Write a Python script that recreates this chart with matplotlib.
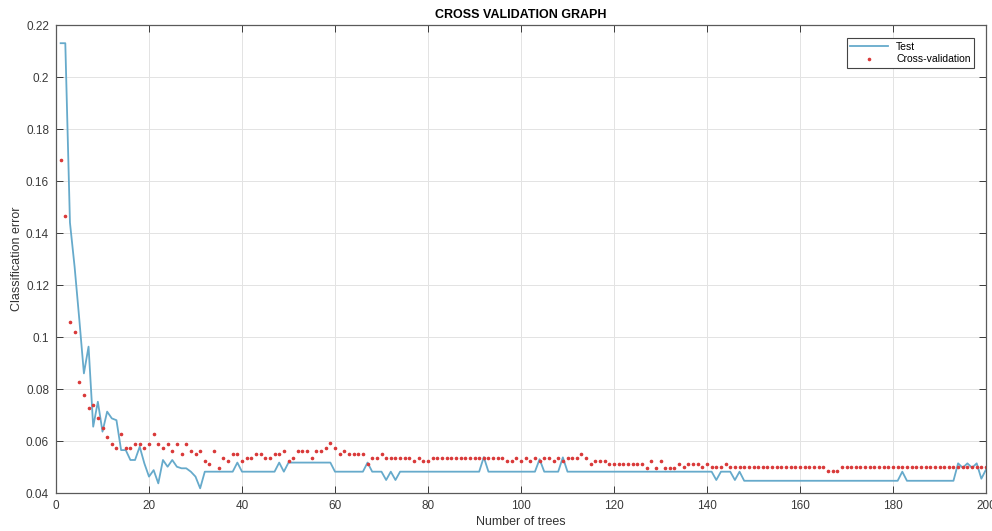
import numpy as np
import matplotlib
matplotlib.use("Agg")
import matplotlib.pyplot as plt
from matplotlib.ticker import FormatStrFormatter

plt.rcParams['font.family'] = ['Liberation Sans', 'DejaVu Sans']

# number of trees 1..200
trees = np.arange(1, 201)

# test classification error (blue line)
test_err = [
    0.213, 0.213, 0.144, 0.127, 0.107, 0.086, 0.0963, 0.0655, 0.0751, 0.0636,
    0.0713, 0.0687, 0.068, 0.0565, 0.0565, 0.0527, 0.0527, 0.0578, 0.0514, 0.0463,
    0.0488, 0.0437, 0.0527, 0.0501, 0.0527, 0.0501, 0.0495, 0.0495, 0.0482, 0.0463,
    0.0418, 0.0482, 0.0482, 0.0482, 0.0482, 0.0482, 0.0482, 0.0482, 0.0517, 0.0482,
    0.0482, 0.0482, 0.0482, 0.0482, 0.0482, 0.0482, 0.0482, 0.0517, 0.0482, 0.0517,
    0.0517, 0.0517, 0.0517, 0.0517, 0.0517, 0.0517, 0.0517, 0.0517, 0.0517, 0.0482,
    0.0482, 0.0482, 0.0482, 0.0482, 0.0482, 0.0482, 0.0517, 0.0482, 0.0482, 0.0482,
    0.045, 0.0482, 0.045, 0.0482, 0.0482, 0.0482, 0.0482, 0.0482, 0.0482, 0.0482,
    0.0482, 0.0482, 0.0482, 0.0482, 0.0482, 0.0482, 0.0482, 0.0482, 0.0482, 0.0482,
    0.0482, 0.0538, 0.0482, 0.0482, 0.0482, 0.0482, 0.0482, 0.0482, 0.0482, 0.0482,
    0.0482, 0.0482, 0.0482, 0.053, 0.0482, 0.0482, 0.0482, 0.0482, 0.0537, 0.0482,
    0.0482, 0.0482, 0.0482, 0.0482, 0.0482, 0.0482, 0.0482, 0.0482, 0.0482, 0.0482,
    0.0482, 0.0482, 0.0482, 0.0482, 0.0482, 0.0482, 0.0482, 0.0482, 0.0482, 0.0482,
    0.0482, 0.0482, 0.0482, 0.0482, 0.0482, 0.0482, 0.0482, 0.0482, 0.0482, 0.0482,
    0.0482, 0.045, 0.0482, 0.0482, 0.0482, 0.045, 0.0482, 0.0447, 0.0447, 0.0447,
    0.0447, 0.0447, 0.0447, 0.0447, 0.0447, 0.0447, 0.0447, 0.0447, 0.0447, 0.0447,
    0.0447, 0.0447, 0.0447, 0.0447, 0.0447, 0.0447, 0.0447, 0.0447, 0.0447, 0.0447,
    0.0447, 0.0447, 0.0447, 0.0447, 0.0447, 0.0447, 0.0447, 0.0447, 0.0447, 0.0447,
    0.0447, 0.0482, 0.0447, 0.0447, 0.0447, 0.0447, 0.0447, 0.0447, 0.0447, 0.0447,
    0.0447, 0.0447, 0.0447, 0.0514, 0.0497, 0.0514, 0.0497, 0.0514, 0.0455, 0.049,
]

# cross-validation error (red dots)
cv_err = [
    0.168, 0.1465, 0.1056, 0.1018, 0.0828, 0.0777, 0.0728, 0.074, 0.069, 0.065,
    0.0614, 0.0587, 0.0574, 0.0626, 0.0574, 0.0574, 0.0587, 0.0587, 0.0574, 0.0587,
    0.0626, 0.0587, 0.0574, 0.0587, 0.0562, 0.0587, 0.0549, 0.0587, 0.0562, 0.0549,
    0.0562, 0.0523, 0.051, 0.0562, 0.0497, 0.0536, 0.0523, 0.055, 0.055, 0.0523,
    0.0536, 0.0536, 0.055, 0.055, 0.0536, 0.0536, 0.055, 0.055, 0.0563, 0.0523,
    0.0536, 0.0563, 0.0563, 0.0563, 0.0536, 0.0563, 0.0563, 0.0574, 0.0591, 0.0574,
    0.055, 0.0563, 0.055, 0.055, 0.055, 0.055, 0.051, 0.0536, 0.0536, 0.055,
    0.0536, 0.0536, 0.0536, 0.0536, 0.0536, 0.0536, 0.0523, 0.0536, 0.0523, 0.0523,
    0.0536, 0.0536, 0.0536, 0.0536, 0.0536, 0.0536, 0.0536, 0.0536, 0.0536, 0.0536,
    0.0536, 0.0536, 0.0536, 0.0536, 0.0536, 0.0536, 0.0523, 0.0523, 0.0536, 0.0523,
    0.0536, 0.0523, 0.0536, 0.0523, 0.0536, 0.0536, 0.0523, 0.0536, 0.0523, 0.0536,
    0.0536, 0.0536, 0.055, 0.0536, 0.0512, 0.0523, 0.0523, 0.0523, 0.051, 0.051,
    0.051, 0.051, 0.051, 0.051, 0.051, 0.051, 0.0497, 0.0523, 0.0497, 0.0523,
    0.0497, 0.0497, 0.0497, 0.051, 0.0499, 0.051, 0.051, 0.051, 0.0499, 0.051,
    0.0499, 0.0499, 0.0499, 0.051, 0.0499, 0.0499, 0.0499, 0.0499, 0.0499, 0.0499,
    0.0499, 0.0499, 0.0499, 0.0499, 0.0499, 0.0499, 0.0499, 0.0499, 0.0499, 0.0499,
    0.0499, 0.0499, 0.0499, 0.0499, 0.0499, 0.0486, 0.0486, 0.0486, 0.0499, 0.0499,
    0.0499, 0.0499, 0.0499, 0.0499, 0.0499, 0.0499, 0.0499, 0.0499, 0.0499, 0.0499,
    0.0499, 0.0499, 0.0499, 0.0499, 0.0499, 0.0499, 0.0499, 0.0499, 0.0499, 0.0499,
    0.0499, 0.0499, 0.0499, 0.0499, 0.0499, 0.0499, 0.0499, 0.0499, 0.0499, 0.0499,
]

fig = plt.figure(figsize=(9.92, 5.31), dpi=100)
ax = fig.add_axes([56/992, 38/531, 930/992, 468/531])

ax.plot(trees, test_err, color='#66aacb', lw=1.3, label='Test')
ax.plot(trees, cv_err, '.', color='#d93a3a', ms=3.2, label='Cross-validation')

ax.set_xlim(0, 200)
ax.set_ylim(0.04, 0.22)
ax.set_xticks(np.arange(0, 201, 20))
ax.set_yticks(np.arange(0.04, 0.2201, 0.02))
ax.yaxis.set_major_formatter(FormatStrFormatter('%g'))
ax.grid(True, color='#e3e3e3', lw=0.7)
ax.set_axisbelow(True)
ax.tick_params(direction='in', top=True, right=True, length=5, width=0.7,
               labelsize=8.5, colors='#3a3a3a', pad=5)
for s in ax.spines.values():
    s.set_color('#5a5a5a')
    s.set_linewidth(0.9)

ax.set_title('CROSS VALIDATION GRAPH', fontsize=9, fontweight='bold', pad=5)
ax.set_xlabel('Number of trees', fontsize=9, color='#333333', labelpad=3)
ax.set_ylabel('Classification error', fontsize=9, color='#333333', labelpad=2)

leg = ax.legend(loc='upper right', fontsize=7.5, fancybox=False, framealpha=1,
                edgecolor='#444444', borderpad=0.35, handlelength=3.6,
                labelspacing=0.25, bbox_to_anchor=(0.993, 0.983))
leg.get_frame().set_linewidth(0.8)

fig.savefig('out.png', dpi=100)
